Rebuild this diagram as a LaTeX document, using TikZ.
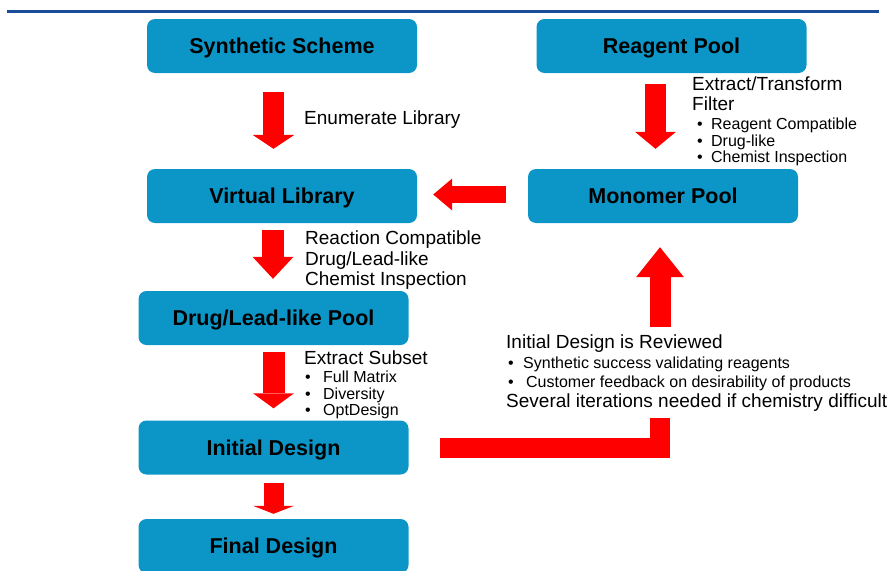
\documentclass[tikz,border=0pt]{standalone}
\usepackage{fontspec}
\setmainfont{Liberation Sans}
\usetikzlibrary{arrows.meta}
\definecolor{stageblue}{RGB}{12,150,200}
\definecolor{ruleblue}{RGB}{24,78,154}
\definecolor{arrowred}{RGB}{255,0,0}
\tikzset{fat/.style n args={3}{draw=arrowred,line width=#1,-{Triangle[width=#2,length=#3,line width=0pt]}}}

\begin{document}
\begin{tikzpicture}[x=1pt,y=-1pt]
		\tikzstyle{stage}=[rectangle,rounded corners=8pt,fill=stageblue,minimum width=270pt,minimum height=54pt,inner sep=0pt,text height=15.4pt,text depth=0pt,font=\fontsize{21.5}{24}\selectfont\bfseries]
		\tikzstyle{note}=[anchor=mid west,inner sep=0pt,yshift=-4pt,font=\fontsize{19}{20}\selectfont]
		\tikzstyle{item}=[anchor=mid west,inner sep=0pt,yshift=-3pt,font=\fontsize{16}{17}\selectfont]
		\tikzstyle{bar}=[draw=arrowred,line width=20pt,line join=miter]
		
		\useasboundingbox (0,0) rectangle (890,570);
		\clip (0,0) rectangle (890,570);
		\draw[ruleblue,line width=3pt] (7,11) -- (879,11);
		
		% stages
		\node[stage](ss) at (282,46) {Synthetic Scheme};
		\node[stage](rp) at (671.5,46) {Reagent Pool};
		\node[stage](vl) at (282,196) {Virtual Library};
		\node[stage](mp) at (663,196) {Monomer Pool};
		\node[stage](dl) at (273.5,318) {Drug/Lead-like Pool};
		\node[stage](id) at (273.5,447.5) {Initial Design};
		\node[stage](fd) at (273.5,546) {Final Design};
		
		% arrows
		\draw[fat={21pt}{42pt}{14pt},shorten <=19pt,shorten >=20pt] ([xshift=-8.5pt]ss.south) -- ([xshift=-8.5pt]vl.north);
		\draw[fat={21pt}{41pt}{17pt},shorten <=11pt,shorten >=20pt] ([xshift=-16pt]rp.south) -- ([xshift=-16pt]rp.south |- mp.north);
		\draw[fat={17pt}{32pt}{19pt},shorten <=22pt,shorten >=16pt] ([yshift=1.5pt]mp.west) -- ([yshift=1.5pt]vl.east);
		\draw[fat={22pt}{41pt}{22pt},shorten <=7pt,shorten >=12pt] ([xshift=-9pt]vl.south) -- ([xshift=-9pt]vl.south |- dl.north);
		\draw[fat={22pt}{41pt}{15pt},shorten <=7pt,shorten >=12pt] (dl.south) -- (id.north);
		\draw[fat={20pt}{41pt}{8pt},shorten <=8pt,shorten >=5pt] (id.south) -- (fd.north);
		
		\coordinate (turn) at (660,448);
		\coordinate (gapbot) at (660,418);
		\coordinate (gaptop) at (660,327);
		\draw[bar,shorten <=31.5pt] ([yshift=-0.5pt]id.east) -- (turn) -- (gapbot);
		\draw[fat={21pt}{48pt}{30pt},shorten >=24pt] (gaptop) -- (gaptop |- mp.south);
		
		% labels
		\node[note](enum) at (304,118) {Enumerate Library};
		\node[note](etf) at (692,84) {Extract/Transform};
		\node[note](filt) at (692,104) {Filter};
		\foreach \t [count=\i] in {Reagent Compatible,Drug-like,Chemist Inspection}
			\node[item](rpb\i) at (697,107.5+16.5*\i) {\makebox[14pt][l]{\textbullet}\t};
		\node[note](rc) at (305,238) {Reaction Compatible};
		\node[note](dll) at (305,258.5) {Drug/Lead-like};
		\node[note](ci) at (305,279) {Chemist Inspection};
		\node[note](exs) at (304,358) {Extract Subset};
		\foreach \t [count=\i] in {Full Matrix,Diversity,OptDesign}
			\node[item](exb\i) at (305,360.5+16.5*\i) {\makebox[18pt][l]{\textbullet}\t};
		\node[note](rev) at (506,342) {Initial Design is Reviewed};
		\node[item](rev1) at (508,363) {\makebox[15pt][l]{\textbullet}Synthetic success validating reagents};
		\node[item](rev2) at (508,382) {\makebox[18pt][l]{\textbullet}Customer feedback on desirability of products};
		\node[note](sev) at (506,401) {Several iterations needed if chemistry difficult};
\end{tikzpicture}
\end{document}
